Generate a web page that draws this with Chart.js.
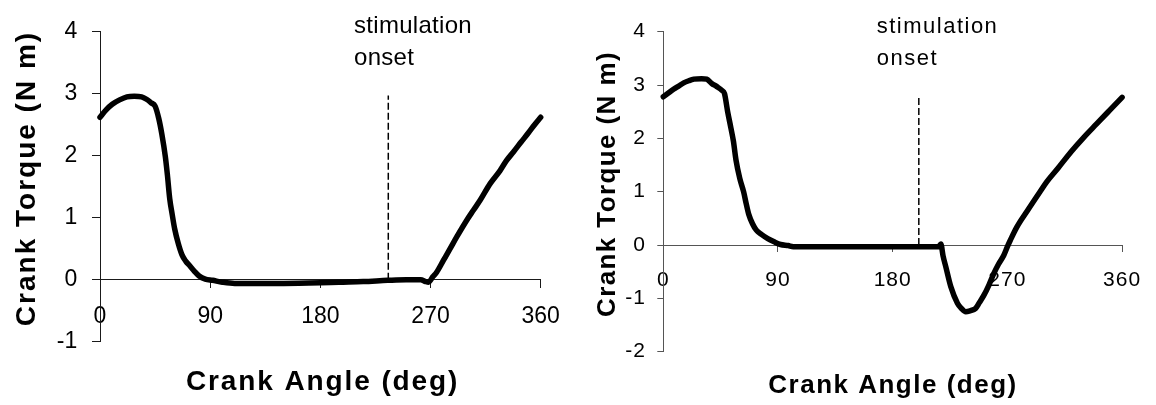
<!DOCTYPE html>
<html>
<head>
<meta charset="utf-8">
<script src="https://cdn.jsdelivr.net/npm/chart.js@4.4.1/dist/chart.umd.min.js"></script>
<style>
  html, body { margin: 0; padding: 0; background: #fff; }
  #wrap { width: 1156px; height: 405px; position: relative; overflow: hidden; }
  canvas { position: absolute; top: 0; }
  #c1 { left: 0; }
  #c2 { left: 578px; }
</style>
</head>
<body>
<div id="wrap">
  <canvas id="c1" width="578" height="405"></canvas>
  <canvas id="c2" width="578" height="405"></canvas>
</div>
<script>
// ---------- data ----------
const xTicks = [0, 90, 180, 270, 360];
const leftYTicks = [-1, 0, 1, 2, 3, 4];
const rightYTicks = [-2, -1, 0, 1, 2, 3, 4];

const leftAngle  = [0, 5, 10, 16, 22, 28, 34, 38, 42, 45, 48, 50.5, 53.4, 55, 57, 59, 61, 64, 67, 70, 73.5, 77, 81, 86, 92, 100, 110, 150, 180, 195, 215, 235, 250, 262, 266, 268.3, 272, 275, 280.5, 286, 291.4, 299.6, 305, 310.5, 318.7, 326.8, 332, 337.7, 344, 350, 355, 360];
const leftTorque = [2.62, 2.74, 2.83, 2.90, 2.95, 2.96, 2.95, 2.91, 2.85, 2.80, 2.60, 2.35, 1.98, 1.70, 1.30, 1.05, 0.82, 0.58, 0.40, 0.30, 0.22, 0.14, 0.06, 0.01, -0.01, -0.04, -0.06, -0.06, -0.05, -0.04, -0.03, -0.01, 0.00, 0.00, -0.03, -0.04, 0.05, 0.12, 0.31, 0.50, 0.69, 0.96, 1.12, 1.28, 1.55, 1.76, 1.92, 2.06, 2.22, 2.37, 2.50, 2.62];

const rightAngle  = [0, 4, 8, 12, 16, 20, 24, 30, 34, 38, 42, 46, 48, 50.5, 53, 55, 57, 60, 63, 65, 67, 70, 73, 77, 82, 87, 92, 98, 102, 130, 170, 200, 216, 217.8, 219.5, 221.7, 225.6, 230.8, 234, 237.3, 241, 245, 248, 251.6, 255.5, 259.4, 263, 267.2, 270, 272.3, 277.5, 285.3, 295.6, 301, 310, 320, 330, 340, 350, 360];
const rightTorque = [2.78, 2.85, 2.92, 2.98, 3.04, 3.08, 3.11, 3.12, 3.11, 3.03, 2.97, 2.90, 2.84, 2.50, 2.20, 1.95, 1.60, 1.25, 1.00, 0.78, 0.58, 0.40, 0.28, 0.20, 0.12, 0.06, 0.01, -0.01, -0.03, -0.03, -0.03, -0.03, -0.03, 0.02, -0.20, -0.41, -0.78, -1.09, -1.19, -1.25, -1.23, -1.19, -1.08, -0.94, -0.75, -0.53, -0.36, -0.19, -0.03, 0.09, 0.34, 0.63, 1.00, 1.19, 1.45, 1.75, 2.02, 2.27, 2.52, 2.77];

const leftOnsetAngle = 235.5;
const leftOnsetTop = 2.97;
const rightOnsetAngle = 200.5;
const rightOnsetTop = 2.78;

const xTitleText = 'Crank Angle (deg)';
const yTitleText = 'Crank Torque (N m)';
const noteLines = ['stimulation', 'onset'];

// ---------- helpers ----------
const FONT = '"Liberation Sans", Arial, Helvetica, sans-serif';

function toPoints(xs, ys) { return xs.map((x, i) => ({ x: x, y: ys[i] })); }

const textPlugin = {
  id: 'texts',
  beforeDraw(chart, args, opts) {
    if ('letterSpacing' in chart.ctx) chart.ctx.letterSpacing = (opts.tickSpacing || 0) + 'px';
  },
  afterDraw(chart, args, opts) {
    const ctx = chart.ctx;
    ctx.save();
    ctx.fillStyle = '#000';
    for (const t of (opts.items || [])) {
      ctx.save();
      ctx.font = t.font;
      if ('letterSpacing' in ctx) ctx.letterSpacing = (t.ls || 0) + 'px';
      ctx.textAlign = t.align || 'left';
      ctx.textBaseline = 'alphabetic';
      ctx.translate(t.x, t.y);
      if (t.rot) ctx.rotate(t.rot);
      ctx.fillText(t.text, 0, 0);
      ctx.restore();
    }
    ctx.restore();
    if ('letterSpacing' in ctx) ctx.letterSpacing = '0px';
  }
};

function makeChart(id, cfg) {
  const axisColor = cfg.axisColor;
  return new Chart(document.getElementById(id), {
    type: 'line',
    data: {
      datasets: [
        {
          data: toPoints(cfg.angle, cfg.torque),
          borderColor: '#000',
          borderWidth: 5.5,
          pointRadius: 0,
          cubicInterpolationMode: 'monotone',
          borderCapStyle: 'round',
          borderJoinStyle: 'round',
          clip: 8
        },
        {
          data: toPoints([cfg.onset, cfg.onset], [0, cfg.onsetTop]),
          borderColor: '#000',
          borderWidth: 1.5,
          borderDash: [7, 3],
          pointRadius: 0,
          clip: 8
        }
      ]
    },
    options: {
      responsive: false,
      devicePixelRatio: 1,
      animation: false,
      events: [],
      layout: { padding: cfg.padding },
      plugins: {
        legend: { display: false },
        tooltip: { enabled: false },
        texts: { items: cfg.texts, tickSpacing: cfg.tickSpacing }
      },
      scales: {
        x: {
          type: 'linear',
          position: { y: 0 },
          min: 0, max: 360,
          afterBuildTicks: (s) => { s.ticks = xTicks.map(v => ({ value: v })); },
          ticks: {
            font: { family: FONT, size: cfg.tickSize },
            color: '#000',
            padding: cfg.xPad,
            maxRotation: 0,
            autoSkip: false
          },
          grid: { drawOnChartArea: false, drawTicks: true, tickLength: cfg.tl, color: axisColor, lineWidth: 1 },
          border: { color: axisColor, width: 1 }
        },
        y: {
          type: 'linear',
          position: 'left',
          min: cfg.yTicks[0], max: cfg.yTicks[cfg.yTicks.length - 1],
          afterBuildTicks: (s) => { s.ticks = cfg.yTicks.map(v => ({ value: v })); },
          afterFit: (s) => { s.width = cfg.yWidth; },
          ticks: {
            font: { family: FONT, size: cfg.tickSize },
            color: '#000',
            padding: cfg.yPad
          },
          grid: { drawOnChartArea: false, drawTicks: true, tickLength: cfg.tl, color: axisColor, lineWidth: 1 },
          border: { color: axisColor, width: 1 }
        }
      }
    },
    plugins: [textPlugin]
  });
}

// ---------- left chart ----------
makeChart('c1', {
  angle: leftAngle, torque: leftTorque,
  onset: leftOnsetAngle, onsetTop: leftOnsetTop,
  yTicks: leftYTicks,
  padding: { top: 31.7, bottom: 63.3, left: 0, right: 37.3 },
  yWidth: 100,
  axisColor: '#1a1a1a',
  tickSize: 23, tickSpacing: 0, tl: 8, yPad: 14.7, xPad: 15,
  texts: [
    { text: yTitleText, font: 'bold 28px ' + FONT, ls: 2, x: 35, y: 178.5, rot: -Math.PI / 2, align: 'center' },
    { text: xTitleText, font: 'bold 28px ' + FONT, ls: 1.9, x: 322.6, y: 390, align: 'center' },
    { text: noteLines[0], font: '24px ' + FONT, ls: 0.3, x: 354, y: 33 },
    { text: noteLines[1], font: '24px ' + FONT, ls: 0.3, x: 354, y: 65 }
  ]
});

// ---------- right chart ----------
makeChart('c2', {
  angle: rightAngle, torque: rightTorque,
  onset: rightOnsetAngle, onsetTop: rightOnsetTop,
  yTicks: rightYTicks,
  padding: { top: 31.7, bottom: 53.3, left: 0, right: 30 },
  yWidth: 85.3,
  axisColor: '#555',
  tickSize: 21, tickSpacing: 1, tl: 6, yPad: 11.3, xPad: 16.4,
  texts: [
    { text: yTitleText, font: 'bold 26px ' + FONT, ls: 1.4, x: 37, y: 184, rot: -Math.PI / 2, align: 'center' },
    { text: xTitleText, font: 'bold 26px ' + FONT, ls: 1.5, x: 315, y: 393, align: 'center' },
    { text: noteLines[0], font: '22px ' + FONT, ls: 1.5, x: 298.7, y: 33 },
    { text: noteLines[1], font: '22px ' + FONT, ls: 1.5, x: 298.7, y: 65 }
  ]
});
</script>
</body>
</html>
